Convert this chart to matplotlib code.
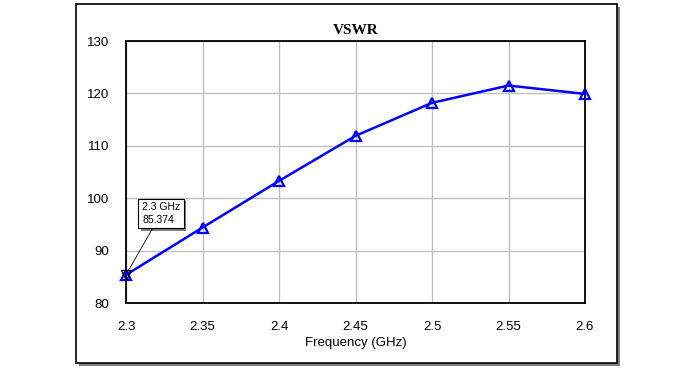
import matplotlib
matplotlib.use("Agg")
import matplotlib.pyplot as plt
from matplotlib.patches import Rectangle

freq = [2.3, 2.35, 2.4, 2.45, 2.5, 2.55, 2.6]
vswr = [85.374, 94.4, 103.3, 111.9, 118.2, 121.5, 119.9]
x_ticks = [2.3, 2.35, 2.4, 2.45, 2.5, 2.55, 2.6]
x_tick_labels = ["2.3", "2.35", "2.4", "2.45", "2.5", "2.55", "2.6"]
y_ticks = [80, 90, 100, 110, 120, 130]
title = "VSWR"
xlabel = "Frequency (GHz)"
marker_text = "2.3 GHz\n85.374"

W, H = 698, 372
fig = plt.figure(figsize=(W / 100, H / 100), dpi=100)
fig.patch.set_facecolor("white")

def fx(px):
    return px / W

def fy(py):
    return 1 - py / H

# outer frame with shadow
fig.add_artist(Rectangle((fx(79), fy(366)), fx(620) - fx(79), fy(7) - fy(366),
                         transform=fig.transFigure, facecolor="#808080", edgecolor="none", zorder=-3))
fig.add_artist(Rectangle((fx(76), fy(363)), fx(617) - fx(76), fy(4) - fy(363),
                         transform=fig.transFigure, facecolor="white", edgecolor="black",
                         linewidth=1.2, zorder=-2))

ax = fig.add_axes([fx(126), fy(303), fx(585) - fx(126), fy(41) - fy(303)])
ax.set_zorder(1)
ax.set_facecolor("white")
ax.set_xlim(2.3, 2.6)
ax.set_ylim(80, 130)
ax.set_xticks(x_ticks)
ax.set_xticklabels(x_tick_labels)
ax.set_yticks(y_ticks)
ax.grid(True, color="#c0c0c0", linewidth=1.0)
ax.set_axisbelow(True)
ax.tick_params(length=0, labelsize=9.5, pad=12, labelcolor="black")
ax.tick_params(axis="x", pad=13)
for lab in ax.get_xticklabels() + ax.get_yticklabels():
    lab.set_fontfamily("Liberation Sans")
for s in ax.spines.values():
    s.set_color("black")
    s.set_linewidth(1.3)

ax.plot(freq, vswr, color="#0000ff", linewidth=1.8, marker="^", markersize=6.5,
        markerfacecolor="none", markeredgecolor="#0000ff", markeredgewidth=1.6,
        clip_on=False, zorder=3)
ax.plot([freq[0]], [vswr[0]], marker="v", markersize=6.5, markerfacecolor="none",
        markeredgecolor="black", markeredgewidth=1.0, linestyle="none", clip_on=False, zorder=4)

ax.set_xlabel(xlabel, fontsize=9.5, fontfamily="Liberation Sans", labelpad=3)
fig.text(fx(355.5), fy(30), title, ha="center", va="center", fontsize=11,
         fontweight="bold", fontfamily="Liberation Serif", zorder=2)

box_xy = (2.3105, 94.95)
ann = ax.annotate(marker_text, xy=(freq[0], vswr[0]), xytext=box_xy,
                  fontsize=7.5, fontfamily="Liberation Sans", ha="left", va="bottom",
                  linespacing=1.3,
                  bbox=dict(boxstyle="square,pad=0.35", facecolor="white", edgecolor="black", linewidth=0.8),
                  arrowprops=dict(arrowstyle="-", color="black", linewidth=0.6, shrinkA=0, shrinkB=0),
                  zorder=5)

# shadow behind the readout box
fig.canvas.draw()
bb = ann.get_bbox_patch().get_window_extent()
ax.add_artist(Rectangle((bb.x0 + 2.5, bb.y0 - 2.5), bb.width, bb.height, transform=None,
                        facecolor="#808080", edgecolor="none", zorder=4.5))

fig.savefig("out.png", dpi=100, facecolor="white")
